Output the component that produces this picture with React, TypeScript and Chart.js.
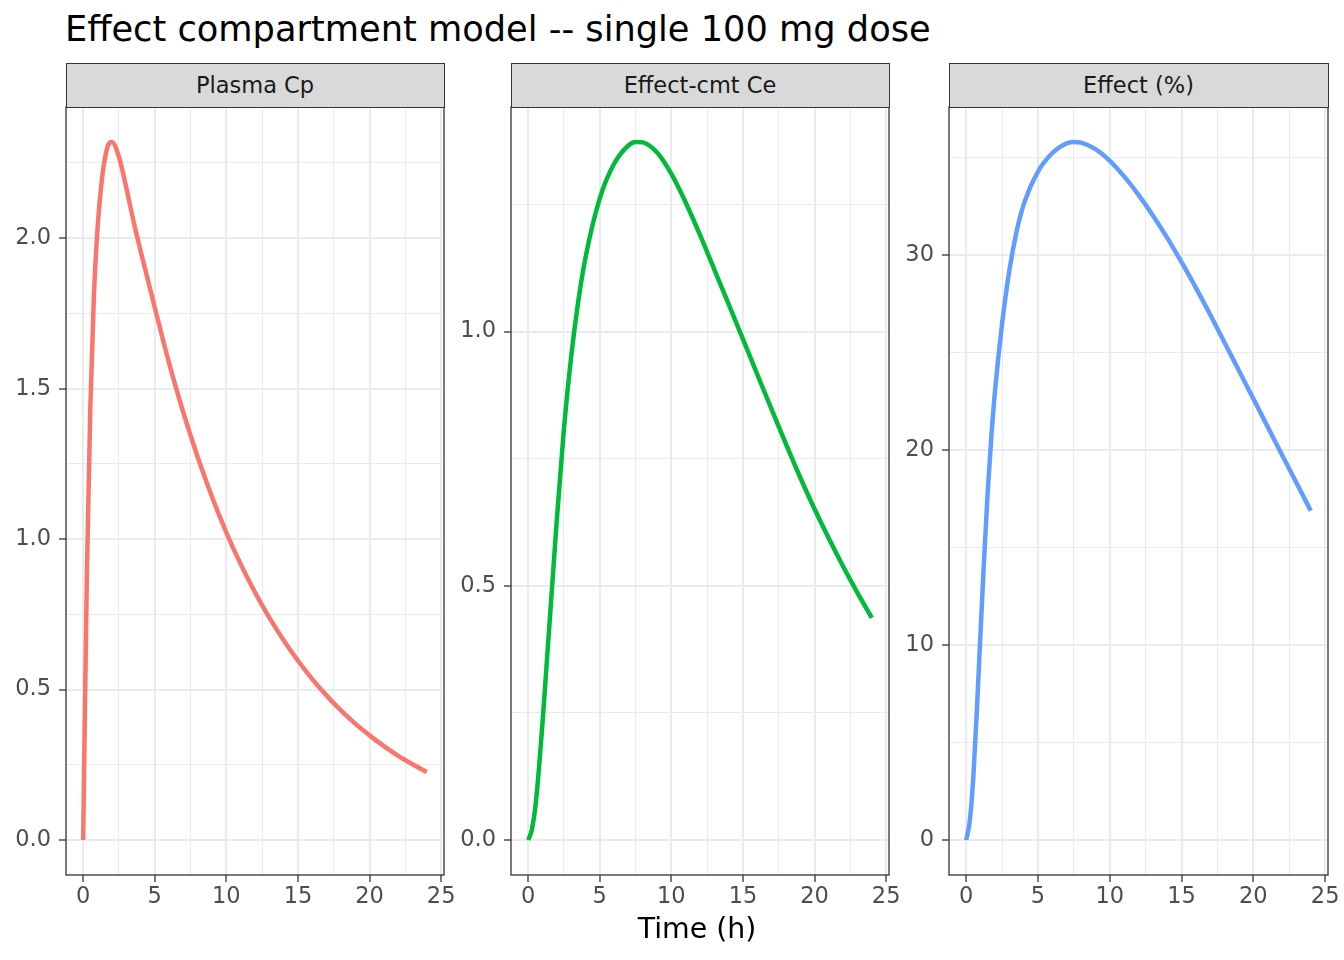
import { useEffect, useRef } from 'react';
import { Chart, registerables } from 'chart.js';

Chart.register(...registerables);

const FONT = '"DejaVu Sans", Verdana, sans-serif';

// time grid (h) and the three simulated curves
const times = [0, 0.25, 0.5, 0.75, 1, 1.25, 1.5, 1.75, 2, 2.5, 3, 3.5, 4, 5, 6, 7, 7.5, 8, 9, 10, 11, 12, 13, 14, 15, 16, 17, 18, 19, 20, 21, 22, 23, 24];
const plasmaCp = [0, 0.86, 1.44, 1.81, 2.03, 2.17, 2.26, 2.31, 2.32, 2.27, 2.17, 2.06, 1.96, 1.77, 1.585, 1.42, 1.345, 1.272, 1.14, 1.022, 0.917, 0.823, 0.739, 0.664, 0.596, 0.535, 0.48, 0.431, 0.387, 0.348, 0.312, 0.28, 0.252, 0.226];
const effectCe = [0, 0.02, 0.065, 0.14, 0.23, 0.33, 0.43, 0.53, 0.63, 0.81, 0.95, 1.06, 1.145, 1.262, 1.33, 1.366, 1.373, 1.372, 1.352, 1.31, 1.254, 1.19, 1.122, 1.054, 0.985, 0.916, 0.847, 0.779, 0.713, 0.651, 0.593, 0.538, 0.486, 0.437];
const effectPct = [0, 1.0, 3.3, 6.8, 10.7, 14.5, 17.9, 20.7, 23.0, 26.5, 29.2, 31.2, 32.6, 34.3, 35.25, 35.75, 35.82, 35.78, 35.45, 34.85, 34.05, 33.1, 32.05, 30.9, 29.65, 28.33, 26.95, 25.52, 24.08, 22.64, 21.2, 19.76, 18.33, 16.9];

const xMajor = [0, 5, 10, 15, 20, 25];
const xMinor = [2.5, 7.5, 12.5, 17.5, 22.5];
const cpMajor = [0, 0.5, 1, 1.5, 2];
const cpMinor = [0.25, 0.75, 1.25, 1.75, 2.25];
const ceMajor = [0, 0.5, 1];
const ceMinor = [0.25, 0.75, 1.25];
const effMajor = [0, 10, 20, 30];
const effMinor = [5, 15, 25, 35];

const panelTitles = ['Plasma Cp', 'Effect-cmt Ce', 'Effect (%)'];
const lineColors = ['#F8766D', '#00BA38', '#619CFF'];

// page geometry
const PANEL_LEFT = [66, 511, 949];
const PANEL_W = [378, 378, 379];
const PANEL_TOP = 107;
const PANEL_H = 768;
const STRIP_H = 44;
const Y_AXIS_W = 60;
const X_AXIS_H = 40;
const PAD_TOP = 24;
const PAD_RIGHT = 24;

const panelBorder = {
    id: 'panelBorder',
    afterDatasetsDraw(chart: Chart) {
        const { ctx, chartArea: a } = chart;
        ctx.save();
        ctx.strokeStyle = '#333333';
        ctx.lineWidth = 1.3;
        ctx.strokeRect(a.left, a.top, a.right - a.left, a.bottom - a.top);
        ctx.restore();
    },
};

interface PanelProps {
    values: number[];
    color: string;
    major: number[];
    minor: number[];
    digits: number;
    left: number;
    width: number;
}

const Panel: React.FC<PanelProps> = ({ values, color, major, minor, digits, left, width }) => {
    const chartRef = useRef<HTMLCanvasElement | null>(null);

    useEffect(() => {
        if (!chartRef.current) return;

        // ggplot-style 5% expansion of the data range
        const lo = Math.min(...values);
        const hi = Math.max(...values);
        const yPad = (hi - lo) * 0.05;
        const tLo = Math.min(...times);
        const tHi = Math.max(...times);
        const tPad = (tHi - tLo) * 0.05;

        const xList = [...xMajor, ...xMinor].sort((a, b) => a - b);
        const yList = [...major, ...minor].sort((a, b) => a - b);

        const tickFont = { family: FONT, size: 22.5 };

        const chart = new Chart(chartRef.current, {
            type: 'line',
            data: {
                datasets: [
                    {
                        data: times.map((t, i) => ({ x: t, y: values[i] })),
                        borderColor: color,
                        borderWidth: 4.5,
                        borderJoinStyle: 'round',
                        cubicInterpolationMode: 'monotone',
                        pointRadius: 0,
                        fill: false,
                    },
                ],
            },
            options: {
                animation: false,
                responsive: false,
                maintainAspectRatio: false,
                layout: { padding: { top: PAD_TOP, right: PAD_RIGHT, left: 0, bottom: 0 } },
                plugins: {
                    legend: { display: false },
                    tooltip: { enabled: false },
                },
                scales: {
                    x: {
                        type: 'linear',
                        min: tLo - tPad,
                        max: tHi + tPad,
                        afterBuildTicks: (s: any) => {
                            s.ticks = xList.map((v) => ({ value: v }));
                        },
                        afterFit: (s: any) => {
                            s.height = X_AXIS_H;
                        },
                        ticks: {
                            autoSkip: false,
                            maxRotation: 0,
                            padding: 2,
                            color: '#4D4D4D',
                            font: tickFont,
                            callback: (v: any) => (xMajor.includes(Number(v)) ? String(v) : ''),
                        },
                        grid: {
                            color: '#EBEBEB',
                            lineWidth: (c: any) => (c.tick && xMajor.includes(c.tick.value) ? 2 : 1),
                            tickLength: 7,
                            tickWidth: 1.3,
                            tickColor: (c: any) => (c.tick && xMajor.includes(c.tick.value) ? '#333333' : 'rgba(0,0,0,0)'),
                        },
                        border: { display: false },
                    },
                    y: {
                        type: 'linear',
                        min: lo - yPad,
                        max: hi + yPad,
                        afterBuildTicks: (s: any) => {
                            s.ticks = yList.map((v) => ({ value: v }));
                        },
                        afterFit: (s: any) => {
                            s.width = Y_AXIS_W;
                        },
                        ticks: {
                            autoSkip: false,
                            padding: 8,
                            color: '#4D4D4D',
                            font: tickFont,
                            callback: (v: any) => (major.includes(Number(v)) ? Number(v).toFixed(digits) : ''),
                        },
                        grid: {
                            color: '#EBEBEB',
                            lineWidth: (c: any) => (c.tick && major.includes(c.tick.value) ? 2 : 1),
                            tickLength: 7,
                            tickWidth: 1.3,
                            tickColor: (c: any) => (c.tick && major.includes(c.tick.value) ? '#333333' : 'rgba(0,0,0,0)'),
                        },
                        border: { display: false },
                    },
                },
            },
            plugins: [panelBorder],
        });

        return () => {
            chart.destroy();
        };
    }, [values, color, major, minor, digits]);

    const cw = Y_AXIS_W + width + PAD_RIGHT;
    const ch = PAD_TOP + PANEL_H + X_AXIS_H;

    return (
        <canvas
            ref={chartRef}
            width={cw}
            height={ch}
            style={{
                position: 'absolute',
                left: left - Y_AXIS_W,
                top: PANEL_TOP - PAD_TOP,
                width: cw,
                height: ch,
                display: 'block',
            }}
        ></canvas>
    );
};

export default function App() {
    const series = [plasmaCp, effectCe, effectPct];
    const majors = [cpMajor, ceMajor, effMajor];
    const minors = [cpMinor, ceMinor, effMinor];
    const digits = [1, 1, 0];

    return (
        <div
            style={{
                position: 'absolute',
                left: 0,
                top: 0,
                width: 1344,
                height: 960,
                background: '#FFFFFF',
                fontFamily: FONT,
                overflow: 'hidden',
            }}
        >
            <div
                style={{
                    position: 'absolute',
                    left: 65,
                    top: 12,
                    fontSize: 35.2,
                    lineHeight: '34px',
                    color: '#000000',
                    whiteSpace: 'nowrap',
                }}
            >
                Effect compartment model -- single 100 mg dose
            </div>

            {series.map((vals, i) => (
                <Panel
                    key={panelTitles[i]}
                    values={vals}
                    color={lineColors[i]}
                    major={majors[i]}
                    minor={minors[i]}
                    digits={digits[i]}
                    left={PANEL_LEFT[i]}
                    width={PANEL_W[i]}
                />
            ))}

            {panelTitles.map((title, i) => (
                <div
                    key={title}
                    style={{
                        position: 'absolute',
                        left: PANEL_LEFT[i] - 0.5,
                        top: PANEL_TOP - STRIP_H,
                        width: PANEL_W[i] + 1,
                        height: STRIP_H + 0.5,
                        boxSizing: 'border-box',
                        background: '#D9D9D9',
                        border: '1.3px solid #333333',
                        display: 'flex',
                        alignItems: 'center',
                        justifyContent: 'center',
                        fontSize: 22.5,
                        color: '#1A1A1A',
                        whiteSpace: 'nowrap',
                    }}
                >
                    {title}
                </div>
            ))}

            <div
                style={{
                    position: 'absolute',
                    left: 297,
                    width: 800,
                    top: 915,
                    textAlign: 'center',
                    fontSize: 28.4,
                    lineHeight: '28px',
                    color: '#000000',
                    whiteSpace: 'nowrap',
                }}
            >
                Time (h)
            </div>
        </div>
    );
}
